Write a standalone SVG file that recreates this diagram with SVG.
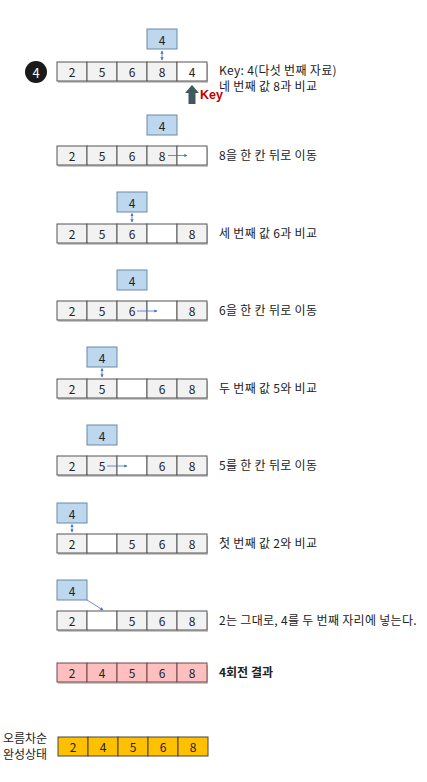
<svg xmlns="http://www.w3.org/2000/svg" width="427" height="782" viewBox="0 0 427 782">
<style>
text{font-family:"Noto Sans CJK KR","Liberation Sans",sans-serif;fill:#222;}
.c{fill:#f2f2f2;stroke:#555;stroke-width:1;}
.e{fill:#ffffff;stroke:#555;stroke-width:1;}
.p{fill:#ffbfbf;stroke:#6b4b4b;stroke-width:1;}
.g{fill:#ffc000;stroke:#444;stroke-width:1;}
.sh{fill:#c8c8c8;}
.k{fill:#bdd7ee;stroke:#6a89a8;stroke-width:1;}
.n{font-size:12px;text-anchor:middle;dominant-baseline:central;}
.t{font-size:12px;letter-spacing:0.3px;}
.b{font-size:12px;font-weight:bold;}
.ln{stroke:#4472c4;stroke-width:0.8;fill:none;}
</style>
<defs>
<marker id="ah" viewBox="0 0 6 6" refX="5" refY="3" markerWidth="4" markerHeight="4" orient="auto-start-reverse"><path d="M0,0 L6,3 L0,6 Z" fill="#4472c4"/></marker>
</defs>

<g id="step-badge">
<circle cx="36" cy="72" r="11" fill="#1a1a1a"/>
<text x="36" y="72" class="n" style="fill:#fff;font-size:13px">4</text>
</g>

<g id="row1">
<rect x="58" y="64" width="150" height="19" class="sh"/>
<rect x="57" y="62" width="30" height="19" class="c"/><text x="72" y="71.5" class="n">2</text>
<rect x="87" y="62" width="30" height="19" class="c"/><text x="102" y="71.5" class="n">5</text>
<rect x="117" y="62" width="30" height="19" class="c"/><text x="132" y="71.5" class="n">6</text>
<rect x="147" y="62" width="30" height="19" class="c"/><text x="162" y="71.5" class="n">8</text>
<rect x="177" y="62" width="30" height="19" class="e"/><text x="192" y="71.5" class="n">4</text>
</g>
<g id="key1"><rect x="147" y="29" width="30" height="20" class="k"/><text x="162" y="39" class="n">4</text></g>
<g id="key-pointer">
<polygon points="192,85 199,93 195.5,93 195.5,104 188.5,104 188.5,93 185,93" fill="#3e5a5e"/>
<text x="200" y="99" style="font-family:'Liberation Sans',sans-serif;font-size:12.5px;font-weight:bold;fill:#c00000">Key</text>
</g>
<text x="219" y="74.5" class="t">Key: 4(다섯 번째 자료)</text>
<text x="219" y="90.5" class="t">네 번째 값 8과 비교</text>

<g id="row2">
<rect x="58" y="148" width="150" height="19" class="sh"/>
<rect x="57" y="146" width="30" height="19" class="c"/><text x="72" y="155.5" class="n">2</text>
<rect x="87" y="146" width="30" height="19" class="c"/><text x="102" y="155.5" class="n">5</text>
<rect x="117" y="146" width="30" height="19" class="c"/><text x="132" y="155.5" class="n">6</text>
<rect x="147" y="146" width="30" height="19" class="c"/><text x="162" y="155.5" class="n">8</text>
<rect x="177" y="146" width="30" height="19" class="e"/>
</g>
<g id="key2"><rect x="147" y="115" width="30" height="20" class="k"/><text x="162" y="125" class="n">4</text></g>
<text x="219" y="160" class="t">8을 한 칸 뒤로 이동</text>

<g id="row3">
<rect x="58" y="226" width="150" height="19" class="sh"/>
<rect x="57" y="224" width="30" height="19" class="c"/><text x="72" y="233.5" class="n">2</text>
<rect x="87" y="224" width="30" height="19" class="c"/><text x="102" y="233.5" class="n">5</text>
<rect x="117" y="224" width="30" height="19" class="c"/><text x="132" y="233.5" class="n">6</text>
<rect x="147" y="224" width="30" height="19" class="e"/>
<rect x="177" y="224" width="30" height="19" class="c"/><text x="192" y="233.5" class="n">8</text>
</g>
<g id="key3"><rect x="117" y="192" width="30" height="20" class="k"/><text x="132" y="202" class="n">4</text></g>
<text x="219" y="238" class="t">세 번째 값 6과 비교</text>

<g id="row4">
<rect x="58" y="303" width="150" height="19" class="sh"/>
<rect x="57" y="301" width="30" height="19" class="c"/><text x="72" y="310.5" class="n">2</text>
<rect x="87" y="301" width="30" height="19" class="c"/><text x="102" y="310.5" class="n">5</text>
<rect x="117" y="301" width="30" height="19" class="c"/><text x="132" y="310.5" class="n">6</text>
<rect x="147" y="301" width="30" height="19" class="e"/>
<rect x="177" y="301" width="30" height="19" class="c"/><text x="192" y="310.5" class="n">8</text>
</g>
<g id="key4"><rect x="117" y="270" width="30" height="20" class="k"/><text x="132" y="280" class="n">4</text></g>
<text x="219" y="315" class="t">6을 한 칸 뒤로 이동</text>

<g id="row5">
<rect x="58" y="381" width="150" height="19" class="sh"/>
<rect x="57" y="379" width="30" height="19" class="c"/><text x="72" y="388.5" class="n">2</text>
<rect x="87" y="379" width="30" height="19" class="c"/><text x="102" y="388.5" class="n">5</text>
<rect x="117" y="379" width="30" height="19" class="e"/>
<rect x="147" y="379" width="30" height="19" class="c"/><text x="162" y="388.5" class="n">6</text>
<rect x="177" y="379" width="30" height="19" class="c"/><text x="192" y="388.5" class="n">8</text>
</g>
<g id="key5"><rect x="87" y="347" width="30" height="20" class="k"/><text x="102" y="357" class="n">4</text></g>
<text x="219" y="393" class="t">두 번째 값 5와 비교</text>

<g id="row6">
<rect x="58" y="458" width="150" height="19" class="sh"/>
<rect x="57" y="456" width="30" height="19" class="c"/><text x="72" y="465.5" class="n">2</text>
<rect x="87" y="456" width="30" height="19" class="c"/><text x="102" y="465.5" class="n">5</text>
<rect x="117" y="456" width="30" height="19" class="e"/>
<rect x="147" y="456" width="30" height="19" class="c"/><text x="162" y="465.5" class="n">6</text>
<rect x="177" y="456" width="30" height="19" class="c"/><text x="192" y="465.5" class="n">8</text>
</g>
<g id="key6"><rect x="87" y="425" width="30" height="20" class="k"/><text x="102" y="435" class="n">4</text></g>
<text x="219" y="470" class="t">5를 한 칸 뒤로 이동</text>

<g id="row7">
<rect x="58" y="536" width="150" height="19" class="sh"/>
<rect x="57" y="534" width="30" height="19" class="c"/><text x="72" y="543.5" class="n">2</text>
<rect x="87" y="534" width="30" height="19" class="e"/>
<rect x="117" y="534" width="30" height="19" class="c"/><text x="132" y="543.5" class="n">5</text>
<rect x="147" y="534" width="30" height="19" class="c"/><text x="162" y="543.5" class="n">6</text>
<rect x="177" y="534" width="30" height="19" class="c"/><text x="192" y="543.5" class="n">8</text>
</g>
<g id="key7"><rect x="57" y="503" width="30" height="20" class="k"/><text x="72" y="513" class="n">4</text></g>
<text x="219" y="548" class="t">첫 번째 값 2와 비교</text>

<g id="row8">
<rect x="58" y="613" width="150" height="19" class="sh"/>
<rect x="57" y="611" width="30" height="19" class="c"/><text x="72" y="620.5" class="n">2</text>
<rect x="87" y="611" width="30" height="19" class="e"/>
<rect x="117" y="611" width="30" height="19" class="c"/><text x="132" y="620.5" class="n">5</text>
<rect x="147" y="611" width="30" height="19" class="c"/><text x="162" y="620.5" class="n">6</text>
<rect x="177" y="611" width="30" height="19" class="c"/><text x="192" y="620.5" class="n">8</text>
</g>
<g id="key8"><rect x="57" y="580" width="30" height="20" class="k"/><text x="72" y="590" class="n">4</text></g>
<text x="219" y="625" class="t">2는 그대로, 4를 두 번째 자리에 넣는다.</text>

<g id="row9">
<rect x="58" y="665" width="150" height="19" class="sh"/>
<rect x="57" y="663" width="30" height="19" class="p"/><text x="72" y="672.5" class="n">2</text>
<rect x="87" y="663" width="30" height="19" class="p"/><text x="102" y="672.5" class="n">4</text>
<rect x="117" y="663" width="30" height="19" class="p"/><text x="132" y="672.5" class="n">5</text>
<rect x="147" y="663" width="30" height="19" class="p"/><text x="162" y="672.5" class="n">6</text>
<rect x="177" y="663" width="30" height="19" class="p"/><text x="192" y="672.5" class="n">8</text>
</g>
<text x="219" y="677" class="b">4회전 결과</text>

<g id="row10">
<rect x="58" y="737" width="30" height="19" class="g"/><text x="73" y="746.5" class="n">2</text>
<rect x="88" y="737" width="30" height="19" class="g"/><text x="103" y="746.5" class="n">4</text>
<rect x="118" y="737" width="30" height="19" class="g"/><text x="133" y="746.5" class="n">5</text>
<rect x="148" y="737" width="30" height="19" class="g"/><text x="163" y="746.5" class="n">6</text>
<rect x="178" y="737" width="30" height="19" class="g"/><text x="193" y="746.5" class="n">8</text>
</g>
<text x="3" y="742.5" style="font-size:12px">오름차순</text>
<text x="3" y="758.5" style="font-size:12px">완성상태</text>

<g id="connectors">
<line x1="162" y1="51" x2="162" y2="60" class="ln" marker-start="url(#ah)" marker-end="url(#ah)"/>
<line x1="168" y1="155.5" x2="187" y2="155.5" class="ln" marker-end="url(#ah)"/>
<line x1="132" y1="213.5" x2="132" y2="222" class="ln" marker-start="url(#ah)" marker-end="url(#ah)"/>
<line x1="137" y1="311" x2="157" y2="311" class="ln" marker-end="url(#ah)"/>
<line x1="102" y1="368.5" x2="102" y2="377" class="ln" marker-start="url(#ah)" marker-end="url(#ah)"/>
<line x1="107" y1="466" x2="127" y2="466" class="ln" marker-end="url(#ah)"/>
<line x1="72" y1="524.5" x2="72" y2="532" class="ln" marker-start="url(#ah)" marker-end="url(#ah)"/>
<line x1="87" y1="600" x2="103" y2="610" class="ln" marker-end="url(#ah)"/>
</g>
</svg>
